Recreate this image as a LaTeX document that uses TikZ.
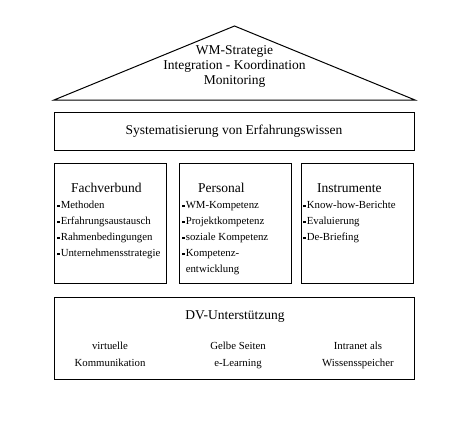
\documentclass[tikz,border=0pt]{standalone}
\usepackage{fontspec}
\setmainfont{Liberation Serif}
\newcommand{\bul}{\rule[1.3pt]{2.4pt}{2.4pt}\hspace{1.2pt}}
\newcommand{\nobul}{\hspace{3.6pt}}
\tikzset{
  frame/.style={draw, line width=1pt, inner sep=0pt},
  big/.style={font=\fontsize{13.5}{15}\selectfont, inner sep=0pt},
  small/.style={font=\fontsize{10.8}{16}\selectfont, inner sep=0pt},
  item/.style={small, anchor=base west},
  head/.style={big, anchor=base west},
}
\begin{document}
\begin{tikzpicture}[x=1pt,y=-1pt]
\useasboundingbox (0,0) rectangle (450,432);
% roof
\coordinate (apex) at (234.5,26);
\coordinate (rl) at (54,100);
\coordinate (rr) at (415,100);
\draw[line width=1pt, line join=miter] (rl) -- (apex) -- (rr) -- cycle;
\node[big, align=center] (roof) at (234.5,66.5) {WM-Strategie\\Integration - Koordination\\Monitoring};
% systematisierung
\node[frame, big, minimum width=360pt, minimum height=38pt] (sys) at (234,131) {Systematisierung von Erfahrungswissen};
% three pillars
\node[frame, minimum width=112pt, minimum height=120pt] (b1) at (110,223) {};
\node[frame, minimum width=112pt, minimum height=120pt] (b2) at (235,223) {};
\node[frame, minimum width=112pt, minimum height=120pt] (b3) at (357,223) {};
\node[head] (h1) at (71,192.5) {Fachverbund};
\node[head] (h2) at (198,192.5) {Personal};
\node[head] (h3) at (317,192.5) {Instrumente};
\node[item] (f1) at (57,208.5) {\bul Methoden};
\node[item] (f2) at (57,224.5) {\bul Erfahrungsaustausch};
\node[item] (f3) at (57,240.5) {\bul Rahmenbedingungen};
\node[item] (f4) at (57,256.5) {\bul Unternehmensstrategie};
\node[item] (p1) at (182,208.5) {\bul WM-Kompetenz};
\node[item] (p2) at (182,224.5) {\bul Projektkompetenz};
\node[item] (p3) at (182,240.5) {\bul soziale Kompetenz};
\node[item] (p4) at (182,256.5) {\bul Kompetenz-};
\node[item] (p5) at (182,272.5) {\nobul entwicklung};
\node[item] (i1) at (303,208.5) {\bul Know-how-Berichte};
\node[item] (i2) at (303,224.5) {\bul Evaluierung};
\node[item] (i3) at (303,240.5) {\bul De-Briefing};
% DV box
\node[frame, minimum width=360pt, minimum height=82pt] (dv) at (234,338) {};
\node[big, anchor=base] (dvt) at (235,319.5) {DV-Unterstützung};
\node[small, anchor=base] (d1a) at (110,349) {virtuelle};
\node[small, anchor=base] (d1b) at (110,366) {Kommunikation};
\node[small, anchor=base] (d2a) at (238,349) {Gelbe Seiten};
\node[small, anchor=base] (d2b) at (238,366) {e-Learning};
\node[small, anchor=base] (d3a) at (358,349) {Intranet als};
\node[small, anchor=base] (d3b) at (358,366) {Wissensspeicher};
\end{tikzpicture}
\end{document}
